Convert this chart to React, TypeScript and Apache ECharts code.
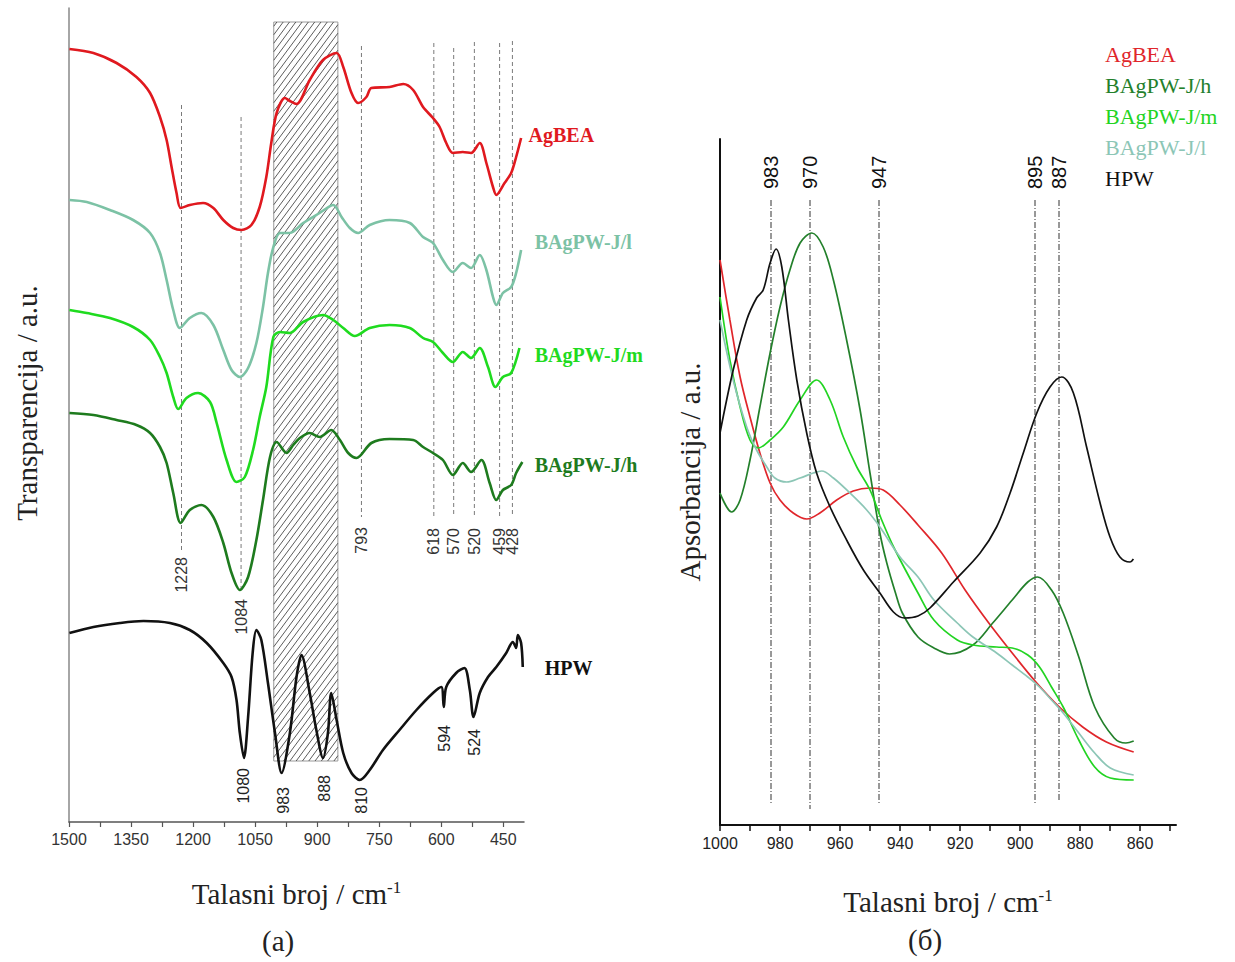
import React, { useEffect, useRef } from "react";
import * as echarts from "echarts";

type P = [number, number];

const SERIF = '"Liberation Serif", "Times New Roman", serif';
const SANS = '"Liberation Sans", Arial, sans-serif';

// ---------- Panel (a): FTIR transmittance, [wavenumber, a.u.] ----------
const agbeaA: P[] = [[1499,773],[1441,769],[1385,759],[1337,745],[1304,729],[1280,705],[1264,682],[1252,655],[1240,629],[1230,614],[1208,617],[1176,619],[1151,614],[1127,602],[1103,594],[1083,592],[1059,597],[1039,615],[1023,645],[1011,679],[998,709],[978,724],[966,721],[950,718],[918,742],[886,762],[853,769],[837,755],[817,729],[801,719],[781,725],[769,734],[725,735],[692,738],[668,732],[644,715],[620,704],[604,695],[588,679],[572,669],[548,670],[528,669],[507,679],[491,659],[475,635],[467,627],[447,639],[431,649],[419,665],[407,684]];
const jlA: P[] = [[1499,622],[1457,620],[1401,612],[1345,602],[1304,589],[1280,569],[1264,542],[1248,512],[1232,494],[1208,504],[1180,509],[1151,497],[1127,472],[1107,452],[1087,445],[1067,454],[1047,479],[1031,515],[1019,549],[1006,575],[990,589],[966,589],[934,599],[894,609],[861,617],[841,605],[821,594],[801,589],[773,597],[725,602],[676,599],[644,585],[620,579],[596,562],[572,550],[548,559],[528,554],[507,567],[491,552],[475,525],[467,517],[451,529],[431,535],[419,549],[407,572]];
const jmA: P[] = [[1499,512],[1457,509],[1401,504],[1345,495],[1304,482],[1280,465],[1264,449],[1248,425],[1236,413],[1216,424],[1188,429],[1159,420],[1143,399],[1119,362],[1095,340],[1075,345],[1055,372],[1039,405],[1023,435],[1006,485],[990,490],[966,489],[934,500],[886,507],[861,502],[837,494],[809,486],[773,494],[725,497],[676,494],[644,484],[620,480],[596,469],[572,460],[548,470],[528,464],[507,474],[487,455],[469,435],[451,445],[431,449],[411,474]];
const jhA: P[] = [[1499,409],[1441,407],[1385,402],[1337,397],[1304,389],[1280,375],[1264,359],[1248,329],[1230,299],[1208,312],[1180,317],[1151,305],[1127,279],[1107,249],[1087,232],[1067,245],[1047,282],[1031,322],[1014,365],[998,380],[974,369],[958,377],[942,384],[918,389],[894,385],[866,392],[845,382],[825,369],[805,364],[769,379],[725,383],[668,382],[644,375],[620,369],[596,362],[572,347],[548,359],[528,350],[503,362],[483,339],[467,322],[451,332],[431,337],[419,349],[404,360]];
const hpwA: P[] = [[1499,189],[1441,195],[1377,199],[1320,201],[1256,199],[1208,192],[1167,179],[1127,159],[1107,145],[1095,122],[1087,89],[1077,64],[1067,105],[1056,169],[1047,192],[1035,182],[1019,139],[1002,89],[986,49],[966,89],[950,145],[938,167],[918,129],[902,92],[886,64],[874,89],[866,129],[853,102],[837,69],[817,49],[797,42],[773,52],[741,72],[701,92],[660,112],[620,129],[600,135],[594,115],[588,135],[564,149],[544,154],[531,132],[522,105],[507,129],[487,145],[467,155],[443,169],[427,180],[419,174],[415,187],[407,179],[403,155]];

const namesA = ["AgBEA", "BAgPW-J/l", "BAgPW-J/m", "BAgPW-J/h", "HPW"];
const colorsA = ["#e0191f", "#7cc2a5", "#1fdb1f", "#1e7b1e", "#111111"];
const labelPosA: P[] = [[389, 687], [374, 580], [374, 467], [374, 357], [350, 154]];

const tickLabelsA = [1500, 1350, 1200, 1050, 900, 750, 600, 450];
const tickMarksA = [1500, 1425, 1350, 1275, 1200, 1125, 1050, 975, 900, 825, 750, 675, 600, 525, 450];

const bandWn = [1228, 1084, 793, 618, 570, 520, 459, 428];
const bandTop = [717, 705, 776, 779, 774, 780, 779, 781];
const bandBottom = [269, 230, 305, 305, 305, 305, 305, 305];
const bandLabelTop = [265, 223, 295, 294, 294, 294, 294, 294];

const hpwPeakLabels = ["1080", "983", "888", "810", "594", "524"];
const hpwPeakPos = [1078, 981, 882, 793, 592, 519];
const hpwPeakTop = [54, 35, 47, 35, 97, 93];

const hatchWn = [1005, 850];
const hatchLevel = [61, 800];

// ---------- Panel (б): absorbance, [wavenumber, a.u.] ----------
const agbeaB: P[] = [[1000,565],[996.7,505],[993.3,448],[990,408],[986.7,372],[983.3,342],[980,325],[975.6,312],[971.1,306],[966.7,312],[961.1,325],[955.6,334],[950,337],[945.6,335],[940,320],[934,300],[926.1,272],[918.3,235],[910.4,202],[902.6,172],[894.7,143],[886.9,118],[879.1,98],[871.2,83],[862.1,73]];
const jhB: P[] = [[1000,332],[996.1,313],[993.3,325],[990,365],[986.7,418],[983.3,472],[980,518],[976.7,555],[973.3,582],[969.4,592],[965.6,578],[962.2,545],[957.8,485],[953.3,415],[950,352],[946.7,292],[944.4,262],[941.5,232],[939.2,212],[934,188],[928.7,177],[923.5,171],[915.7,180],[909.1,202],[902.6,225],[897.4,243],[894.1,248],[889.5,235],[885.6,212],[880.4,168],[875.1,118],[868.6,87],[864.7,82],[862.1,84]];
const jmB: P[] = [[1000,528],[996.7,465],[993.3,418],[990,385],[987.2,377],[983.3,385],[978.9,398],[973.3,425],[967.8,445],[963.3,425],[958.9,388],[954.4,358],[950,335],[946.1,305],[941.8,276],[934,232],[928.7,205],[920.9,185],[915.7,180],[907.8,178],[902.6,177],[897.4,170],[893.5,158],[889.5,138],[885.6,118],[880.4,85],[875.1,58],[869.9,47],[862.1,45]];
const jlB: P[] = [[1000,505],[995.6,445],[991.1,398],[987.8,375],[984.4,358],[981.7,347],[977.8,343],[973.3,347],[968.9,352],[966.1,354],[962.2,347],[956.7,332],[951.1,315],[946.7,298],[940,268],[934,248],[928.7,225],[920.9,202],[915.7,188],[907.8,172],[902.6,160],[897.4,148],[893.5,138],[889.5,125],[885.6,112],[880.4,92],[875.1,72],[869.9,57],[862.1,50]];
const hpwB: P[] = [[1000,392],[995.6,455],[991.1,505],[987.8,527],[985.6,535],[983.3,562],[981.3,576],[979.4,558],[977.2,505],[974.4,445],[971.1,392],[967.8,352],[963.3,318],[957.8,285],[952.2,255],[946.7,232],[942.2,213],[938.5,207],[934,209],[930,217],[922.2,243],[913.3,272],[907.8,298],[903.3,332],[898.9,372],[894.4,412],[890,438],[886.1,448],[882.2,432],[877.8,378],[873.3,322],[870,288],[866.7,268],[863.3,263],[862.2,266]];

const namesB = ["AgBEA", "BAgPW-J/h", "BAgPW-J/m", "BAgPW-J/l", "HPW"];
const colorsB = ["#e0262b", "#23802b", "#22d422", "#8cc6b6", "#111111"];

const tickLabelsB = [1000, 980, 960, 940, 920, 900, 880, 860];
const tickMarksB = [1000, 990, 980, 970, 960, 950, 940, 930, 920, 910, 900, 890, 880, 870, 860, 850];

const peakWnB = [983, 970, 947, 895, 887];
const peakTopB = [625, 625, 625, 625, 625];
const peakBottomB = [22, 16, 22, 22, 24];
const peakLabelBottomB = [636, 636, 636, 636, 636];

export default function App() {
  const ref = useRef<HTMLDivElement>(null);
  useEffect(() => {
    if (!ref.current) return;
    const chart = echarts.init(ref.current, undefined, { renderer: "svg" });

    const seriesDataA = [agbeaA, jlA, jmA, jhA, hpwA];
    const seriesDataB = [agbeaB, jhB, jmB, jlB, hpwB];

    const lineSeriesA = seriesDataA.map((d, i) => ({
      type: "line",
      name: namesA[i],
      xAxisIndex: 0,
      yAxisIndex: 0,
      data: d,
      showSymbol: false,
      smooth: 0.3,
      z: 5,
      lineStyle: { color: colorsA[i], width: 2.6 },
      itemStyle: { color: colorsA[i] },
      silent: true,
    }));
    const lineSeriesB = seriesDataB.map((d, i) => ({
      type: "line",
      name: namesB[i],
      xAxisIndex: 1,
      yAxisIndex: 1,
      data: d,
      showSymbol: false,
      smooth: 0.35,
      z: 5,
      lineStyle: { color: colorsB[i], width: 1.7 },
      itemStyle: { color: colorsB[i] },
      silent: true,
    }));

    const hatchSeries = {
      type: "custom",
      xAxisIndex: 0,
      yAxisIndex: 0,
      z: 1,
      silent: true,
      clip: false,
      encode: { x: [0, 1], y: [2, 3] },
      data: [[hatchWn[0], hatchWn[1], hatchLevel[0], hatchLevel[1]]],
      renderItem: (_p: any, api: any) => {
        const a = api.coord([api.value(0), api.value(3)]);
        const b = api.coord([api.value(1), api.value(2)]);
        const x0 = Math.min(a[0], b[0]);
        const x1 = Math.max(a[0], b[0]);
        const y0 = Math.min(a[1], b[1]);
        const y1 = Math.max(a[1], b[1]);
        const k = 1.35;
        const step = 8.5;
        const children: any[] = [
          { type: "rect", shape: { x: x0, y: y0, width: x1 - x0, height: y1 - y0 }, style: { fill: "#fff", stroke: "#9a9a9a", lineWidth: 1 } },
        ];
        for (let C = y0 + k * x0 + step / 2; C < y1 + k * x1; C += step) {
          const xa = Math.max(x0, (C - y1) / k);
          const xb = Math.min(x1, (C - y0) / k);
          if (xb > xa) {
            children.push({ type: "line", shape: { x1: xa, y1: C - k * xa, x2: xb, y2: C - k * xb }, style: { stroke: "#4a4a4a", lineWidth: 0.9 } });
          }
        }
        return { type: "group", children };
      },
    };

    const bandSeries = {
      type: "custom",
      xAxisIndex: 0,
      yAxisIndex: 0,
      z: 2,
      silent: true,
      clip: false,
      encode: { x: 0, y: [1, 2] },
      data: bandWn.map((w, i) => [w, bandTop[i], bandBottom[i], bandLabelTop[i]]),
      renderItem: (p: any, api: any) => {
        const w = api.value(0);
        const a = api.coord([w, api.value(1)]);
        const b = api.coord([w, api.value(2)]);
        const t = api.coord([w, api.value(3)]);
        return {
          type: "group",
          children: [
            { type: "line", shape: { x1: a[0], y1: a[1], x2: b[0], y2: b[1] }, style: { stroke: "#7a7a7a", lineWidth: 1, lineDash: [4, 3] } },
            { type: "text", x: t[0], y: t[1], rotation: Math.PI / 2, style: { text: String(bandWn[p.dataIndex]), fill: "#333", fontSize: 16, fontFamily: SANS, align: "right", verticalAlign: "middle" } },
          ],
        };
      },
    };

    const hpwLabelSeries = {
      type: "custom",
      xAxisIndex: 0,
      yAxisIndex: 0,
      z: 2,
      silent: true,
      clip: false,
      encode: { x: 0, y: 1 },
      data: hpwPeakPos.map((w, i) => [w, hpwPeakTop[i]]),
      renderItem: (p: any, api: any) => {
        const t = api.coord([api.value(0), api.value(1)]);
        return { type: "text", x: t[0], y: t[1], rotation: Math.PI / 2, style: { text: hpwPeakLabels[p.dataIndex], fill: "#222", fontSize: 16, fontFamily: SANS, align: "right", verticalAlign: "middle" } };
      },
    };

    const nameLabelSeries = {
      type: "custom",
      xAxisIndex: 0,
      yAxisIndex: 0,
      z: 6,
      silent: true,
      clip: false,
      encode: { x: 0, y: 1 },
      data: labelPosA.map((q) => [q[0], q[1]]),
      renderItem: (p: any, api: any) => {
        const t = api.coord([api.value(0), api.value(1)]);
        return { type: "text", x: t[0], y: t[1], style: { text: namesA[p.dataIndex], fill: colorsA[p.dataIndex], fontSize: 20, fontWeight: "bold", fontFamily: SERIF, align: "left", verticalAlign: "middle" } };
      },
    };

    const peakSeriesB = {
      type: "custom",
      xAxisIndex: 1,
      yAxisIndex: 1,
      z: 2,
      silent: true,
      clip: false,
      encode: { x: 0, y: [1, 2] },
      data: peakWnB.map((w, i) => [w, peakTopB[i], peakBottomB[i], peakLabelBottomB[i]]),
      renderItem: (p: any, api: any) => {
        const w = api.value(0);
        const a = api.coord([w, api.value(1)]);
        const b = api.coord([w, api.value(2)]);
        const t = api.coord([w, api.value(3)]);
        return {
          type: "group",
          children: [
            { type: "line", shape: { x1: a[0], y1: a[1], x2: b[0], y2: b[1] }, style: { stroke: "#333", lineWidth: 1, lineDash: [6, 2, 1, 2] } },
            { type: "text", x: t[0], y: t[1], rotation: Math.PI / 2, style: { text: String(peakWnB[p.dataIndex]), fill: "#111", fontSize: 20, fontFamily: SANS, align: "left", verticalAlign: "middle" } },
          ],
        };
      },
    };

    const xName = "{t|Talasni broj / cm}{s|-1}";
    const xNameStyle = {
      rich: {
        t: { fontSize: 29, fontFamily: SERIF, color: "#222" },
        s: { fontSize: 17, fontFamily: SERIF, color: "#222", verticalAlign: "top" },
      },
    };
    const plain = (v: number) => String(v);

    const option: any = {
      animation: false,
      backgroundColor: "#ffffff",
      grid: [
        { left: 69, top: 8, width: 455, height: 814 },
        { left: 720, top: 139, width: 456, height: 686 },
      ],
      legend: {
        orient: "vertical",
        left: 1095,
        top: 38,
        icon: "rect",
        itemWidth: 0,
        itemHeight: 0,
        itemGap: 9,
        selectedMode: false,
        textStyle: { fontFamily: SERIF, fontSize: 22 },
        data: namesB.map((n, i) => ({ name: n, textStyle: { color: colorsB[i] } })),
      },
      xAxis: [
        {
          type: "value",
          gridIndex: 0,
          min: 400,
          max: 1500,
          inverse: true,
          splitLine: { show: false },
          axisLine: { onZero: false, lineStyle: { color: "#555", width: 1.5 } },
          axisTick: { show: true, length: 5, customValues: tickMarksA, lineStyle: { color: "#555", width: 1.2 } },
          axisLabel: { customValues: tickLabelsA, formatter: plain, fontSize: 16, fontFamily: SANS, color: "#333", margin: 9 },
          name: xName,
          nameLocation: "middle",
          nameGap: 57,
          nameTextStyle: xNameStyle,
        },
        {
          type: "value",
          gridIndex: 1,
          min: 848,
          max: 1000,
          inverse: true,
          splitLine: { show: false },
          axisLine: { onZero: false, lineStyle: { color: "#111", width: 2 } },
          axisTick: { show: true, length: 6, customValues: tickMarksB, lineStyle: { color: "#111", width: 1.5 } },
          axisLabel: { customValues: tickLabelsB, formatter: plain, fontSize: 16, fontFamily: SANS, color: "#222", margin: 10 },
          name: xName,
          nameLocation: "middle",
          nameGap: 62,
          nameTextStyle: xNameStyle,
        },
      ],
      yAxis: [
        {
          type: "value",
          gridIndex: 0,
          min: 0,
          max: 814,
          splitLine: { show: false },
          axisTick: { show: false },
          axisLabel: { show: false },
          axisLine: { show: true, onZero: false, lineStyle: { color: "#888", width: 1.5 } },
          name: "Transparencija / a.u.",
          nameLocation: "middle",
          nameGap: 28,
          nameTextStyle: { fontSize: 29, fontFamily: SERIF, color: "#222", padding: [0, 0, 0, 24] },
        },
        {
          type: "value",
          gridIndex: 1,
          min: 0,
          max: 686,
          splitLine: { show: false },
          axisTick: { show: false },
          axisLabel: { show: false },
          axisLine: { show: true, onZero: false, lineStyle: { color: "#111", width: 2 } },
          name: "Apsorbancija / a.u.",
          nameLocation: "middle",
          nameGap: 16,
          nameTextStyle: { fontSize: 29, fontFamily: SERIF, color: "#222", padding: [0, 0, 0, 20] },
        },
      ],
      graphic: [
        { type: "text", left: 262, top: 926, style: { text: "(a)", fontSize: 29, fontFamily: SERIF, fill: "#222" } },
        { type: "text", left: 908, top: 925, style: { text: "(б)", fontSize: 29, fontFamily: SERIF, fill: "#222" } },
      ],
      series: [hatchSeries, bandSeries, hpwLabelSeries, ...lineSeriesA, nameLabelSeries, peakSeriesB, ...lineSeriesB],
    };

    chart.setOption(option);
    return () => chart.dispose();
  }, []);

  return <div ref={ref} style={{ position: "absolute", left: 0, top: 0, width: 1235, height: 962 }} />;
}
